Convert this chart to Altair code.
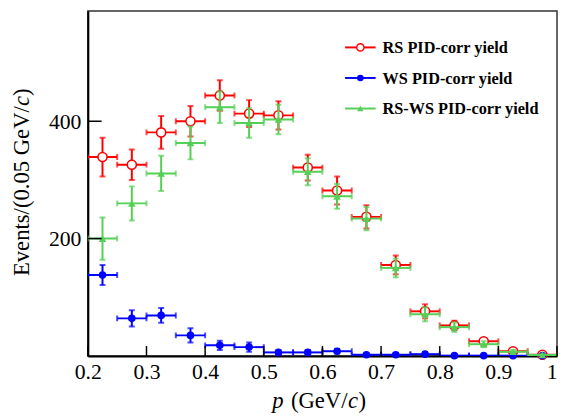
import altair as alt
import pandas as pd

# ---- data ----
x_centers = [0.225, 0.275, 0.325, 0.375, 0.425, 0.475, 0.525, 0.575,
             0.625, 0.675, 0.725, 0.775, 0.825, 0.875, 0.925, 0.975]
half_bin = 0.025
rs_y = [339, 326, 381, 400, 444, 413, 410, 321, 282, 237, 155, 76, 52, 25, 8, 2]
rs_err = [33, 26, 28, 26, 26, 23, 24, 22, 24, 20, 16, 12, 8, 5, 3, 2]
ws_y = [138, 64, 69, 35, 18, 15, 6, 6, 8, 2, 2, 3, 0.5, 0.5, 0.5, 0.5]
ws_err = [17, 14, 12.5, 12, 8, 8, 4, 4, 4, 3, 3, 3, 2, 2, 2, 2]
rsws_y = [200, 260, 311, 363, 424, 397, 403, 314, 272, 234, 150, 71, 49, 20, 7, 1.7]
rsws_err = [36, 29, 30, 28, 27, 25, 25, 23, 21, 20, 16, 12, 8, 5, 3, 2]

series_names = ["RS PID-corr yield", "WS PID-corr yield", "RS-WS PID-corr yield"]
x_tick_values = [0.2, 0.3, 0.4, 0.5, 0.6, 0.7, 0.8, 0.9, 1.0]
y_tick_values = [200, 400]

RED, BLUE, GREEN = "#ff0000", "#0000ff", "#55cf55"
FONT = "Liberation Serif"
W, H = 476, 350

xscale = alt.Scale(domain=[0.2, 1.0], nice=False, zero=False)
yscale = alt.Scale(domain=[0, 588], nice=False, zero=False)
xaxis = alt.Axis(values=x_tick_values, tickSize=0, labelPadding=6, labelFontSize=22,
                 labelFont=FONT, labelColor="black", domainColor="black", domainWidth=2,
                 grid=False, title=None, labelFlush=False, labelOverlap=False,
                 labelAlign={"expr": "datum.value == 1 ? 'right' : 'center'"},
                 labelExpr="datum.value == 1 ? '1' : format(datum.value, '.1f')")
yaxis = alt.Axis(values=y_tick_values, tickSize=0, labelPadding=7, labelFontSize=22,
                 labelFont=FONT, labelColor="black", domainColor="black", domainWidth=2,
                 grid=False, title=None, labelFlush=False, labelOverlap=False)


def X(f):
    return alt.X(f, type="quantitative", scale=xscale, axis=xaxis)


def Y(f):
    return alt.Y(f, type="quantitative", scale=yscale, axis=yaxis)


def make_df(ys, errs):
    return pd.DataFrame({
        "x": x_centers,
        "xlo": [v - half_bin for v in x_centers],
        "xhi": [v + half_bin for v in x_centers],
        "y": ys,
        "ylo": [a - b for a, b in zip(ys, errs)],
        "yhi": [a + b for a, b in zip(ys, errs)],
    })


def series_layers(df, color, point_mark):
    base = alt.Chart(df)
    return [
        base.mark_rule(color=color, strokeWidth=2, clip=True).encode(x=X("x"), y=Y("ylo"), y2="yhi"),
        base.mark_rule(color=color, strokeWidth=2, clip=True).encode(x=X("xlo"), x2="xhi", y=Y("y")),
        base.mark_tick(color=color, orient="horizontal", size=6, thickness=2, clip=True).encode(x=X("x"), y=Y("ylo")),
        base.mark_tick(color=color, orient="horizontal", size=6, thickness=2, clip=True).encode(x=X("x"), y=Y("yhi")),
        base.mark_tick(color=color, orient="vertical", size=6, thickness=2, clip=True).encode(x=X("xlo"), y=Y("y")),
        base.mark_tick(color=color, orient="vertical", size=6, thickness=2, clip=True).encode(x=X("xhi"), y=Y("y")),
        base.mark_point(**point_mark).encode(x=X("x"), y=Y("y")),
    ]


rs_point = dict(shape="circle", filled=True, fill="white", stroke=RED, strokeWidth=1.6, size=85, opacity=1)
ws_point = dict(shape="circle", filled=True, color=BLUE, size=60, opacity=1)
rsws_point = dict(shape="triangle-up", filled=True, color=GREEN, size=60, opacity=1)

layers = []
layers += series_layers(make_df(rs_y, rs_err), RED, rs_point)
layers += series_layers(make_df(ws_y, ws_err), BLUE, ws_point)
layers += series_layers(make_df(rsws_y, rsws_err), GREEN, rsws_point)

# inward ticks (ROOT style)
xt = alt.Chart(pd.DataFrame({"t": x_tick_values})).mark_rule(color="black", strokeWidth=1.5).encode(
    x=X("t"), y=alt.value(H), y2=alt.value(H - 10))
yt = alt.Chart(pd.DataFrame({"t": y_tick_values})).mark_rule(color="black", strokeWidth=1.5).encode(
    y=Y("t"), x=alt.value(0), x2=alt.value(14))
layers += [xt, yt]

# legend
one = pd.DataFrame({"a": [0]})
leg_colors = [RED, BLUE, GREEN]
leg_points = [
    dict(shape="circle", filled=True, fill="white", stroke=RED, strokeWidth=1.4, size=55, opacity=1),
    dict(shape="circle", filled=True, color=BLUE, size=45, opacity=1),
    dict(shape="triangle-up", filled=True, color=GREEN, size=40, opacity=1),
]
for i, (name, col, pm) in enumerate(zip(series_names, leg_colors, leg_points)):
    ly = 37 + i * 31
    layers.append(alt.Chart(one).mark_rule(color=col, strokeWidth=2).encode(
        x=alt.value(261), x2=alt.value(292), y=alt.value(ly)))
    layers.append(alt.Chart(one).mark_point(**pm).encode(x=alt.value(276.5), y=alt.value(ly)))
    layers.append(alt.Chart(one).mark_text(font=FONT, fontSize=16.5, fontWeight="bold", align="left",
                                           baseline="middle", color="black").encode(
        x=alt.value(299), y=alt.value(ly + 1), text=alt.value(name)))

# axis titles (with italic c / p)
TS = 23


def txt(s, x, y, italic=False, angle=0):
    kw = dict(font=FONT, fontSize=TS, align="left", baseline="alphabetic", color="black")
    if italic:
        kw["fontStyle"] = "italic"
    if angle:
        kw["angle"] = angle
        kw["baseline"] = "middle"
    return alt.Chart(one).mark_text(**kw).encode(x=alt.value(x), y=alt.value(y), text=alt.value(s))


# x title: "p (GeV/c)"
xt0 = 187
xty = 403
layers += [
    txt("p", xt0, xty, italic=True),
    txt("(GeV/", xt0 + 19, xty),
    txt("c", xt0 + 19 + 58, xty, italic=True),
    txt(")", xt0 + 19 + 58 + 10.5, xty),
]
# y title: "Events/(0.05 GeV/c)"
yb = 269
w1 = 7.499 * TS
layers += [
    txt("Events/(0.05 GeV/", -67, yb, angle=270),
    txt("c", -67, yb - w1, italic=True, angle=270),
    txt(")", -67, yb - w1 - 0.444 * TS, angle=270),
]

chart = alt.layer(*layers).properties(
    width=W, height=H, autosize="none",
    padding={"left": 81, "top": 0, "right": 1, "bottom": 60},
    background="white",
).configure_view(stroke="#333333", strokeWidth=1.5)

chart.save("out.html", embed_options={"renderer": "svg", "actions": False})
